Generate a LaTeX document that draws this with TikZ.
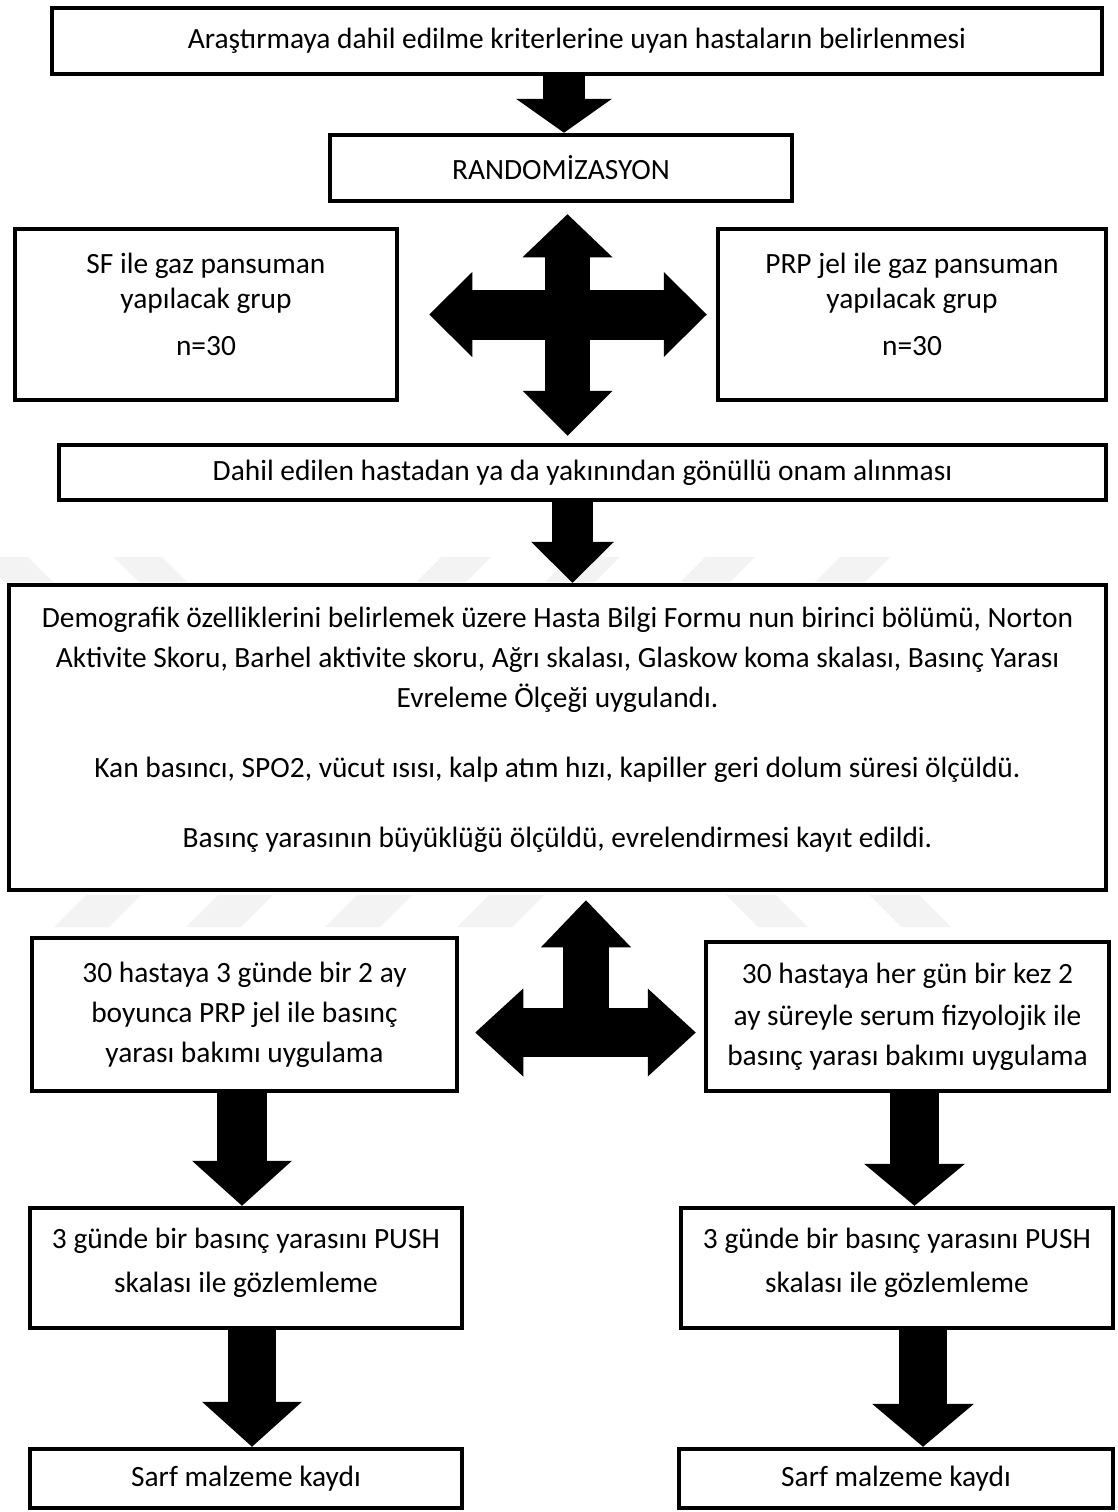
\documentclass[tikz,border=0pt]{standalone}
\usepackage{fontspec}
\setmainfont{Carlito}
\usetikzlibrary{arrows.meta}
\definecolor{boxline}{RGB}{0,0,0}
\definecolor{wmark}{RGB}{243,243,243}
\newcommand{\padbot}[1]{\rule[-#1]{0pt}{#1}}
\tikzset{
  bx/.style  ={draw=boxline, line width=4.5pt, fill=white, align=center, inner sep=0pt, font=\fontsize{29.4}{40}\selectfont},
  blk/.style ={draw=boxline, line cap=butt},
  wm/.style  ={fill=wmark, draw=none},
}

\begin{document}
\begin{tikzpicture}[x=1pt,y=-1pt]
  \useasboundingbox (0,0) rectangle (1117,1512);
  % faint watermark stripes
  \foreach \a in {-20,114} \fill[wm] (\a,557) -- (\a+48,557) -- (\a+73,582) -- (\a+25,582) -- cycle;
  \foreach \a in {441,570,705,840} \fill[wm] (\a,557) -- (\a+50,557) -- (\a+25,582) -- (\a-25,582) -- cycle;
  \foreach \a in {86,218,357,489} \fill[wm] (\a,895) -- (\a+55,895) -- (\a+23,927) -- (\a-32,927) -- cycle;
  \foreach \a in {726,869} \fill[wm] (\a,895) -- (\a+50,895) -- (\a+82,927) -- (\a+32,927) -- cycle;
  % boxes
  \node[bx, minimum width=1050pt, minimum height=66pt] (crit) at (577,41) {Araştırmaya dahil edilme kriterlerine uyan hastaların belirlenmesi};
  \node[bx, minimum width=462pt, minimum height=66pt] (rnd) at (561,168) {RANDOMİZASYON};
  \node[bx, minimum width=382pt, minimum height=171pt] (sfgrp) at (206,314.5) {SF ile gaz pansuman\\[-5pt] yapılacak grup\\[7pt] n=30\padbot{20pt}};
  \node[bx, minimum width=388pt, minimum height=171pt] (prpgrp) at (912,314.5) {PRP jel ile gaz pansuman\\[-5pt] yapılacak grup\\[7pt] n=30\padbot{20pt}};
  \node[bx, minimum width=1047pt, minimum height=55pt] (onam) at (582.5,472.5) {Dahil edilen hastadan ya da yakınından gönüllü onam alınması};
  \node[bx, minimum width=1097pt, minimum height=305pt] (demo) at (557.5,737.5) {Demografik özelliklerini belirlemek üzere Hasta Bilgi Formu nun birinci bölümü, Norton\\ Aktivite Skoru, Barhel aktivite skoru, Ağrı skalası, Glaskow koma skalası, Basınç Yarası\\ Evreleme Ölçeği uygulandı.\\[30pt] Kan basıncı, SPO2, vücut ısısı, kalp atım hızı, kapiller geri dolum süresi ölçüldü.\\[30pt] Basınç yarasının büyüklüğü ölçüldü, evrelendirmesi kayıt edildi.\padbot{20pt}};
  \node[bx, minimum width=425pt, minimum height=153pt] (bakl) at (244.5,1014.5) {30 hastaya 3 günde bir 2 ay\\ boyunca PRP jel ile basınç\\ yarası bakımı uygulama};
  \node[bx, minimum width=403pt, minimum height=149pt] (bakr) at (907.5,1016.5) {30 hastaya her gün bir kez 2\\[2pt] ay süreyle serum fizyolojik ile\\ basınç yarası bakımı uygulama};
  \node[bx, minimum width=432pt, minimum height=120pt] (pushl) at (246,1268) {3 günde bir basınç yarasını PUSH\\[4pt] skalası ile gözlemleme\padbot{16pt}};
  \node[bx, minimum width=432pt, minimum height=120pt] (pushr) at (897,1268) {3 günde bir basınç yarasını PUSH\\[4pt] skalası ile gözlemleme\padbot{16pt}};
  \node[bx, minimum width=432pt, minimum height=59pt] (sarfl) at (246,1478.5) {Sarf malzeme kaydı};
  \node[bx, minimum width=434pt, minimum height=59pt] (sarfr) at (896,1478.5) {Sarf malzeme kaydı};
  % block arrows
  \draw[blk, line width=42pt, -{Triangle[length=34pt,width=96pt,line width=0pt]}] ([xshift=-13pt]crit.south) -- ([xshift=3pt]rnd.north);
  \draw[blk, line width=45pt, {Triangle[length=43pt,width=90pt,line width=0pt]}-{Triangle[length=45pt,width=90pt,line width=0pt]}] ([xshift=6.5pt,yshift=-11pt]rnd.south) -- ([xshift=-15pt,yshift=7pt]onam.north);
  \draw[blk, line width=50pt, {Triangle[length=43pt,width=85pt,line width=0pt]}-{Triangle[length=43pt,width=85pt,line width=0pt]}] ([xshift=30pt]sfgrp.east) -- ([xshift=-9pt]prpgrp.west);
  \draw[blk, line width=41pt, -{Triangle[length=41pt,width=83pt,line width=0pt]}] ([xshift=-10pt]onam.south) -- ([xshift=15pt]demo.north);
  \coordinate (tj) at (586,1032);
  \draw[blk, line width=46pt, -{Triangle[length=47pt,width=90pt,line width=0pt]}] (tj) -- ([xshift=28.5pt,yshift=-8pt]demo.south);
  \draw[blk, line width=49pt, {Triangle[length=48pt,width=88pt,line width=0pt]}-{Triangle[length=48pt,width=88pt,line width=0pt]}] ([xshift=16pt,yshift=-18pt]bakl.east) -- ([xshift=-8pt,yshift=-16pt]bakr.west);
  \draw[blk, line width=50pt, -{Triangle[length=45pt,width=100pt,line width=0pt]}] ([xshift=-2.5pt]bakl.south) -- ([xshift=-4pt]pushl.north);
  \draw[blk, line width=49pt, -{Triangle[length=42pt,width=101pt,line width=0pt]}] ([xshift=7pt]bakr.south) -- ([xshift=17.5pt]pushr.north);
  \draw[blk, line width=48pt, -{Triangle[length=45pt,width=100pt,line width=0pt]}] ([xshift=6pt]pushl.south) -- ([xshift=6pt]sarfl.north);
  \draw[blk, line width=48pt, -{Triangle[length=43pt,width=102pt,line width=0pt]}] ([xshift=26pt]pushr.south) -- ([xshift=27pt]sarfr.north);
\end{tikzpicture}
\end{document}
